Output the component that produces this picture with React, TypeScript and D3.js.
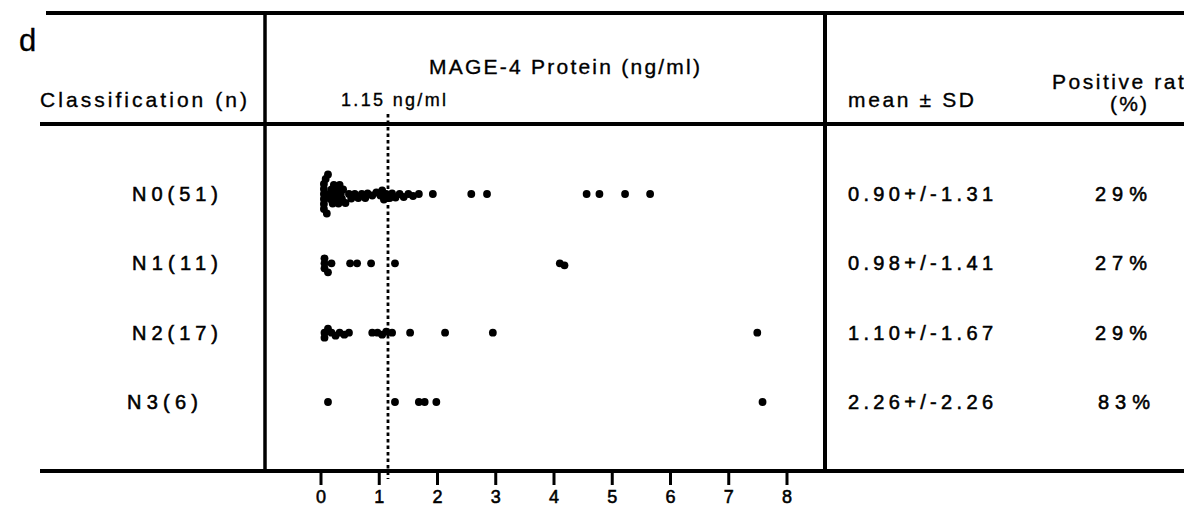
import React from "react";
import * as d3 from "d3";

const categories = ["N0(51)", "N1(11)", "N2(17)", "N3(6)"];
const meanSD = ["0.90+/-1.31", "0.98+/-1.41", "1.10+/-1.67", "2.26+/-2.26"];
const positiveRate = ["29%", "27%", "29%", "83%"];
const xTicks = [0, 1, 2, 3, 4, 5, 6, 7, 8];
const cutoff = 1.15;

const n0Values = [
  0.05, 0.05, 0.05, 0.05, 0.05, 0.05, 0.08, 0.1, 0.12, 0.14, 0.16, 0.18, 0.2,
  0.22, 0.24, 0.26, 0.28, 0.3, 0.32, 0.34, 0.36, 0.38, 0.42, 0.48, 0.52, 0.58,
  0.64, 0.7, 0.76, 0.8, 0.88, 0.95, 1.02, 1.05, 1.08, 1.12, 1.18, 1.22, 1.28,
  1.35, 1.42, 1.5, 1.58, 1.68, 1.92, 2.58, 2.85, 4.56, 4.78, 5.22, 5.65,
];
const n1Values = [0.06, 0.06, 0.06, 0.12, 0.18, 0.5, 0.62, 0.86, 1.27, 4.1, 4.18];
const n2Values = [
  0.06, 0.06, 0.12, 0.18, 0.25, 0.32, 0.4, 0.48, 0.88, 0.97, 1.05, 1.12, 1.22,
  1.53, 2.13, 2.95, 7.49,
];
const n3Values = [0.12, 1.27, 1.68, 1.78, 1.98, 7.58];
const groups = [n0Values, n1Values, n2Values, n3Values];

const W = 1184;
const H = 507;
const FONT = "'Liberation Sans', Arial, Helvetica, sans-serif";

const x = d3.scaleLinear().domain([0, 8]).range([321, 787]);
const y = d3.scalePoint<string>().domain(categories).range([194, 402]);

function dodge(vals: number[], dist: number): number[] {
  const px = vals.map((v) => x(v));
  const order = d3.range(vals.length).sort((a, b) => px[a] - px[b]);
  const ys: number[] = new Array(vals.length).fill(0);
  const placed: number[] = [];
  for (const i of order) {
    let k = 0;
    while (true) {
      const off = k === 0 ? 0 : (k % 2 === 1 ? 1 : -1) * Math.ceil(k / 2) * 0.5;
      const ok = placed.every((j) => {
        const dx = px[j] - px[i];
        const dy = ys[j] - off;
        return dx * dx + dy * dy >= dist * dist;
      });
      if (ok) {
        ys[i] = off;
        break;
      }
      k++;
    }
    placed.push(i);
  }
  return ys;
}

export default function App() {
  const lineTop = 13;
  const lineHead = 124;
  const lineBottom = 471;
  const labelX = [132, 132, 132, 127];
  const labelW = [86, 86, 86, 71];
  const pctX = [1095, 1095, 1095, 1098];
  const heavy = { stroke: "#000", strokeWidth: 0.55 };
  const medium = { stroke: "#000", strokeWidth: 0.35 };

  return (
    <svg
      width={W}
      height={H}
      viewBox={`0 0 ${W} ${H}`}
      style={{ position: "absolute", left: 0, top: 0, background: "#fff" }}
      fontFamily={FONT}
    >
      <rect x={0} y={0} width={W} height={H} fill="#fff" />
      {/* frame lines */}
      <line x1={46} x2={W} y1={lineTop} y2={lineTop} stroke="#000" strokeWidth={4} />
      <line x1={40} x2={W} y1={lineHead} y2={lineHead} stroke="#000" strokeWidth={4} />
      <line x1={40} x2={W} y1={lineBottom} y2={lineBottom} stroke="#000" strokeWidth={4} />
      <line x1={265} x2={265} y1={15} y2={lineBottom} stroke="#000" strokeWidth={3.5} />
      <line x1={825} x2={825} y1={lineTop} y2={lineBottom} stroke="#000" strokeWidth={4} />

      {/* header texts */}
      <text x={19} y={51} fontSize={31} {...medium}>d</text>
      <text x={40} y={107} fontSize={21} textLength={207} lengthAdjust="spacing" {...medium}>
        Classification  (n)
      </text>
      <text x={429} y={74} fontSize={21} textLength={271} lengthAdjust="spacing" {...medium}>
        MAGE-4 Protein  (ng/ml)
      </text>
      <text x={341} y={106} fontSize={18} textLength={105} lengthAdjust="spacing" {...medium}>
        1.15  ng/ml
      </text>
      <text x={848} y={107} fontSize={21} textLength={126} lengthAdjust="spacing" {...medium}>
        mean ± SD
      </text>
      <text x={1052} y={89} fontSize={21} textLength={146} lengthAdjust="spacing" {...medium}>
        Positive  rate
      </text>
      <text x={1110} y={111} fontSize={21} textLength={37} lengthAdjust="spacing" {...medium}>
        (%)
      </text>

      {/* cutoff dotted line */}
      <line
        x1={x(cutoff)}
        x2={x(cutoff)}
        y1={114}
        y2={479}
        stroke="#000"
        strokeWidth={2.8}
        strokeDasharray="3.5,3"
      />

      {/* rows */}
      {categories.map((c, i) => {
        const cy = y(c) as number;
        const offs = dodge(groups[i], 5);
        return (
          <g key={c}>
            <text x={labelX[i]} y={cy + 7} fontSize={20} textLength={labelW[i]} lengthAdjust="spacing" {...heavy}>
              {c}
            </text>
            <text x={848} y={cy + 7} fontSize={20} textLength={145} lengthAdjust="spacing" {...heavy}>
              {meanSD[i]}
            </text>
            <text x={pctX[i]} y={cy + 7} fontSize={20} textLength={52} lengthAdjust="spacing" {...heavy}>
              {positiveRate[i]}
            </text>
            {groups[i].map((v, j) => (
              <circle key={j} cx={x(v)} cy={cy + offs[j]} r={3.9} fill="#000" />
            ))}
          </g>
        );
      })}

      {/* x axis */}
      {xTicks.map((t) => (
        <g key={t}>
          <line x1={x(t)} x2={x(t)} y1={lineBottom} y2={485} stroke="#000" strokeWidth={3} />
          <text x={x(t)} y={503} fontSize={18} textAnchor="middle" {...heavy}>
            {t}
          </text>
        </g>
      ))}
    </svg>
  );
}
